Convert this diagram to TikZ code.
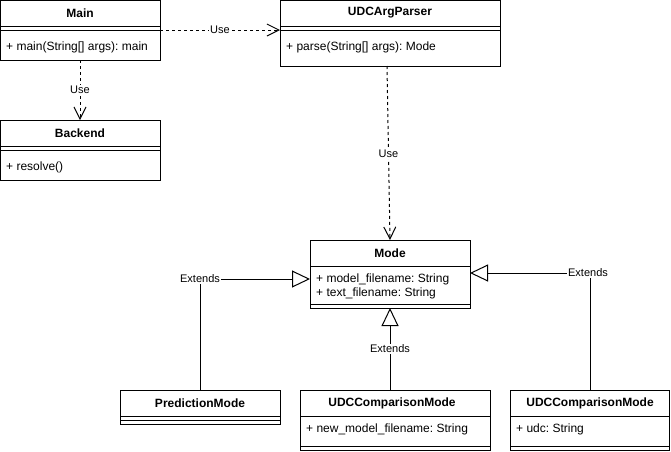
\documentclass[tikz,border=0pt]{standalone}
\usepackage{fontspec}
\setmainfont{Liberation Sans}
\usetikzlibrary{arrows.meta,calc}
\frenchspacing
\begin{document}
\begin{tikzpicture}[x=1pt,y=-1pt,
  box/.style={draw,line width=1pt,rectangle,anchor=north west,inner sep=0pt,outer sep=0pt},
  title/.style={font=\fontsize{12}{14}\selectfont\bfseries,inner sep=0pt},
  field/.style={font=\fontsize{12}{14}\selectfont,anchor=west,inner sep=0pt},
  sep/.style={line width=1pt},
  lbl/.style={font=\fontsize{11}{13}\selectfont,fill=white,inner sep=1pt},
  use/.style={line width=1pt,dash pattern=on 3pt off 3pt,-{Straight Barb[length=12pt,width=12pt,line width=1pt]}},
  ext/.style={line width=1pt,-{Triangle[open,length=18pt,width=17pt,line width=1pt,fill=white]}}
]
\useasboundingbox (0,0) rectangle (671,451);

% Main
\node[box,minimum width=159.5pt,minimum height=60pt] (main) at (0.5,0.5) {};
\node[title] (maint) at (80,13) {Main};
\draw[sep] (0.5,26) -- (160,26);
\draw[sep] (0.5,30) -- (160,30);
\node[field] (mainm) at (6,47) {+ main(String[] args): main};

% UDCArgParser
\node[box,minimum width=220pt,minimum height=65.5pt] (parser) at (280,0.5) {};
\node[title] (parsert) at (390,13) {UDCArgParser};
\draw[sep] (280,26) -- (500,26);
\draw[sep] (280,30) -- (500,30);
\node[field] (parserm) at (286,47) {+ parse(String[] args): Mode};

% Backend
\node[box,minimum width=159.5pt,minimum height=60pt] (backend) at (0.5,120) {};
\node[title] (backendt) at (80,133) {Backend};
\draw[sep] (0.5,146) -- (160,146);
\draw[sep] (0.5,150) -- (160,150);
\node[field] (backendm) at (6,167) {+ resolve()};

% Mode
\node[box,minimum width=160pt,minimum height=68pt] (mode) at (310,240) {};
\node[title] (modet) at (390,253) {Mode};
\draw[sep] (310,266) -- (470,266);
\node[field] (modef1) at (316,279) {+ model\_filename: String};
\node[field] (modef2) at (316,293) {+ text\_filename: String};
\draw[sep] (310,304) -- (470,304);

% PredictionMode
\node[box,minimum width=160pt,minimum height=34pt] (pred) at (120,390) {};
\node[title] (predt) at (200,403) {PredictionMode};
\draw[sep] (120,416) -- (280,416);
\draw[sep] (120,420) -- (280,420);

% UDCComparisonMode (centre)
\node[box,minimum width=190pt,minimum height=60pt] (cmp) at (300,390) {};
\node[title] (cmpt) at (392,403) {UDCComparisonMode};
\draw[sep] (300,416) -- (490,416);
\node[field] (cmpf) at (306,429) {+ new\_model\_filename: String};
\draw[sep] (300,446) -- (490,446);

% UDCComparisonMode (right)
\node[box,minimum width=159pt,minimum height=60pt] (udc) at (510,390) {};
\node[title] (udct) at (590,403) {UDCComparisonMode};
\draw[sep] (510,416) -- (669,416);
\node[field] (udcf) at (516,429) {+ udc: String};
\draw[sep] (510,446) -- (669,446);

% connectors
\coordinate (mainR) at (160,30);
\coordinate (parserL) at (280,30);
\draw[use] (mainR) -- node[lbl,pos=0.5] {Use} (parserL);

\coordinate (mainB) at (80,60);
\coordinate (backT) at (80,120);
\draw[use] (mainB) -- node[lbl,pos=0.5] {Use} (backT);

\coordinate (parserB) at (387,66);
\coordinate (modeT) at (390,240);
\draw[use] (parserB) -- node[lbl,pos=0.507] {Use} (modeT);

\coordinate (predT) at (200,390);
\coordinate (predC) at (200,279);
\coordinate (modeL) at (310,279);
\draw[ext] (predT) -- (predC) -- (modeL);
\node[lbl] (l1) at (predC) {Extends};

\coordinate (cmpT) at (390,390);
\coordinate (modeB) at (390,308);
\draw[ext] (cmpT) -- node[lbl,pos=0.5] {Extends} (modeB);

\coordinate (udcT) at (590,390);
\coordinate (udcC) at (590,273);
\coordinate (modeR) at (470,273);
\draw[ext] (udcT) -- (udcC) -- (modeR);
\node[lbl] (l3) at (588,273) {Extends};
\end{tikzpicture}
\end{document}
